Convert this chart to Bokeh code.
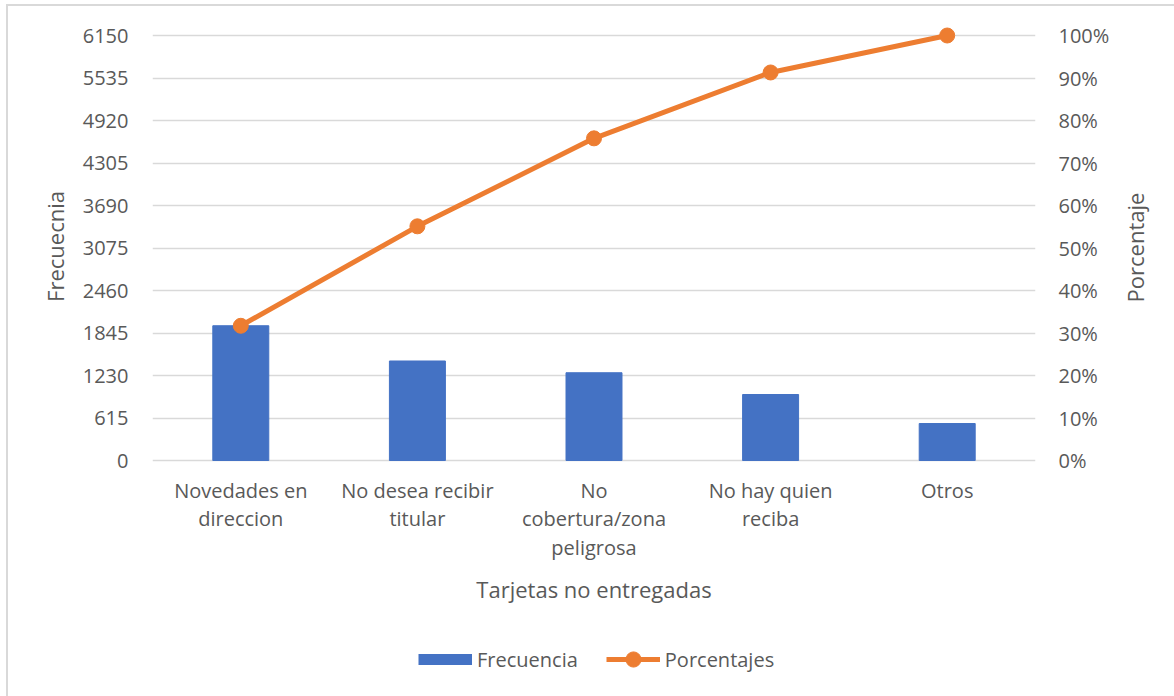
import math
from bokeh.plotting import figure
from bokeh.models import (FactorRange, Range1d, LinearAxis, FixedTicker, Legend, LegendItem,
                          ColumnDataSource)
from bokeh.embed import file_html
from bokeh.resources import INLINE

# ---- data ----
categories = ["Novedades en\ndireccion", "No desea recibir\ntitular",
              "No\ncobertura/zona\npeligrosa", "No hay quien\nreciba", "Otros"]
frecuencia = [1950, 1440, 1270, 955, 535]
porcentajes = [31.7, 55.1, 75.8, 91.3, 100.0]
freq_ticks = [0, 615, 1230, 1845, 2460, 3075, 3690, 4305, 4920, 5535, 6150]
pct_ticks = [0, 10, 20, 30, 40, 50, 60, 70, 80, 90, 100]

FONT = "Open Sans"
TXT = "#595959"
GRID = "#d9d9d9"
BLUE = "#4472C4"
ORANGE = "#ED7D31"

# layout (pixels): value span, head room above, room below the zero line for
# category labels, axis title and legend (all drawn inside the frame)
AXIS_PX = 425
HEAD_PX = 10
BELOW_PX = 236
FRAME_H = AXIS_PX + HEAD_PX + BELOW_PX
fmax = freq_ticks[-1]
pmax = pct_ticks[-1]
y_start = -fmax * BELOW_PX / AXIS_PX
y_end = fmax * (AXIS_PX + HEAD_PX) / AXIS_PX
p_start = -pmax * BELOW_PX / AXIS_PX
p_end = pmax * (AXIS_PX + HEAD_PX) / AXIS_PX

p = figure(frame_width=883, frame_height=FRAME_H, x_range=FactorRange(factors=categories),
           y_range=Range1d(y_start, y_end), output_backend="svg",
           toolbar_location=None, min_border_left=144, min_border_right=139,
           min_border_top=29 - HEAD_PX, min_border_bottom=0)
p.styles = {"margin-left": "6px", "margin-top": "4px",
            "border-left": "2px solid #d9d9d9", "border-top": "2px solid #d9d9d9"}
p.outline_line_color = None
p.background_fill_color = "white"
p.border_fill_color = "white"

p.extra_y_ranges = {"pct": Range1d(p_start, p_end),
                    "swatch": Range1d(-2, -1)}   # off-screen range for the legend swatch

src = ColumnDataSource(dict(x=categories, freq=frecuencia, pct=porcentajes))
bars = p.vbar(x="x", top="freq", width=0.317, source=src, fill_color=BLUE,
              line_color=BLUE)
line_r = p.line(x="x", y="pct", source=src, y_range_name="pct", line_color=ORANGE,
                line_width=5)
pts = p.scatter(x="x", y="pct", source=src, y_range_name="pct", size=15,
                fill_color=ORANGE, line_color=ORANGE)

# legend swatch for the bars: a thick blue stroke (its data lies outside the view)
proxy = p.line(x="x", y="freq", source=src, y_range_name="swatch", line_color=BLUE,
               line_width=11, line_cap="butt")

# x axis drawn at the zero line
xa = p.xaxis[0]
xa.fixed_location = 0
xa.axis_label = "Tarjetas no entregadas"
xa.axis_line_color = None
xa.major_tick_line_color = None
xa.major_tick_out = 0
xa.major_label_standoff = 16
xa.major_label_text_font = FONT
xa.major_label_text_font_size = "20px"
xa.major_label_text_color = TXT
xa.major_label_text_line_height = 1.06
xa.axis_label_text_font = FONT
xa.axis_label_text_font_size = "22px"
xa.axis_label_text_font_style = "normal"
xa.axis_label_text_color = TXT
xa.axis_label_standoff = 10

ya = p.yaxis[0]
ya.ticker = FixedTicker(ticks=freq_ticks)
ya.axis_line_color = None
ya.major_tick_line_color = None
ya.minor_tick_line_color = None
ya.major_tick_out = 0
ya.major_label_standoff = 24
ya.major_label_text_font = FONT
ya.major_label_text_font_size = "20px"
ya.major_label_text_color = TXT

# left title (rotated, centred on the value span)
LEFT_TITLE_TOP = 3900      # value-scale position of the title's upper end
lt = LinearAxis(ticker=FixedTicker(ticks=[LEFT_TITLE_TOP]))
lt.major_label_overrides = {LEFT_TITLE_TOP: "Frecuecnia"}
lt.major_label_orientation = math.pi / 2
lt.axis_line_color = None
lt.major_tick_line_color = None
lt.minor_tick_line_color = None
lt.major_tick_out = 0
lt.major_label_standoff = 24
lt.major_label_text_font = FONT
lt.major_label_text_font_size = "22px"
lt.major_label_text_color = TXT
p.add_layout(lt, "left")

ra = LinearAxis(y_range_name="pct", ticker=FixedTicker(ticks=pct_ticks))
ra.major_label_overrides = {t: f"{t}%" for t in pct_ticks}
ra.axis_line_color = None
ra.major_tick_line_color = None
ra.minor_tick_line_color = None
ra.major_tick_out = 0
ra.major_label_standoff = 23
ra.major_label_text_font = FONT
ra.major_label_text_font_size = "20px"
ra.major_label_text_color = TXT
p.add_layout(ra, "right")

# right-hand axis title, read bottom-to-top like the left one
RIGHT_TITLE_START = 37.2   # percent-scale position where the rotated title starts
rt = LinearAxis(y_range_name="pct", ticker=FixedTicker(ticks=[RIGHT_TITLE_START]))
rt.major_label_overrides = {RIGHT_TITLE_START: "Porcentaje"}
rt.major_label_orientation = math.pi / 2
rt.axis_line_color = None
rt.major_tick_line_color = None
rt.minor_tick_line_color = None
rt.major_tick_out = 0
rt.major_label_standoff = 23
rt.major_label_text_font = FONT
rt.major_label_text_font_size = "22px"
rt.major_label_text_color = TXT
p.add_layout(rt, "right")

p.xgrid.grid_line_color = None
p.ygrid.grid_line_color = GRID
p.ygrid.grid_line_width = 1.5
p.ygrid.ticker = FixedTicker(ticks=freq_ticks)

legend = Legend(items=[LegendItem(label="Frecuencia", renderers=[proxy]),
                       LegendItem(label="Porcentajes", renderers=[line_r, pts])],
                orientation="horizontal", location=(266, 18),
                glyph_width=54, glyph_height=38, label_standoff=5, spacing=28,
                padding=0, margin=0, border_line_color=None,
                label_text_font=FONT, label_text_font_size="20px",
                label_text_color=TXT, background_fill_alpha=0)
p.add_layout(legend, "center")

open("out.html", "w").write(file_html(p, INLINE))
